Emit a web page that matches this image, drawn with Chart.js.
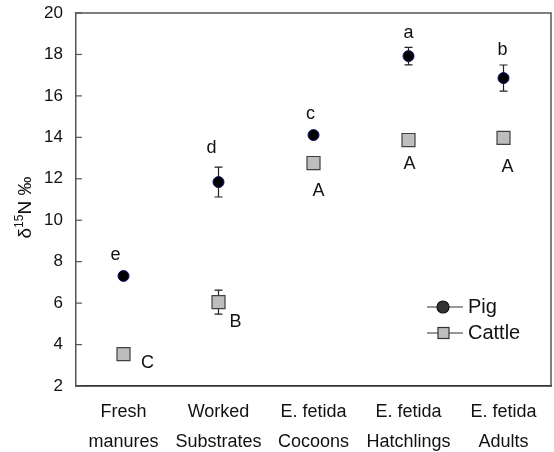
<!DOCTYPE html>
<html>
<head>
<meta charset="utf-8">
<script src="https://cdn.jsdelivr.net/npm/chart.js@4"></script>
<style>
  body { margin: 0; background: #fff; }
</style>
</head>
<body>
<canvas id="chart-area" width="554" height="452"></canvas>
<script>
var categories = [['Fresh', 'manures'], ['Worked', 'Substrates'], ['E. fetida', 'Cocoons'], ['E. fetida', 'Hatchlings'], ['E. fetida', 'Adults']];
var pigValues = [7.31, 11.84, 14.11, 17.92, 16.86];
var pigErrors = [0.1, 0.72, 0.1, 0.42, 0.63];
var cattleValues = [3.54, 6.05, 12.76, 13.87, 13.97];
var cattleErrors = [0.1, 0.58, 0.1, 0.1, 0.1];
var pigLetters = ['e', 'd', 'c', 'a', 'b'];
var cattleLetters = ['C', 'B', 'A', 'A', 'A'];
var yTicks = [2, 4, 6, 8, 10, 12, 14, 16, 18, 20];

var FONT = '"Liberation Sans", Arial, sans-serif';

// pixel offsets of the significance letters from their marker
var pigLetterOffset = [[-8, -21], [-7, -34], [-3, -21], [0, -23], [-1, -28]];
var cattleLetterOffset = [[24, 9], [17, 20], [5, 28], [1, 24], [4, 29]];

var extras = {
  id: 'extras',
  beforeDatasetsDraw: function (chart) {
    var ctx = chart.ctx, x = chart.scales.x, y = chart.scales.y;
    ctx.save();
    ctx.strokeStyle = '#222';
    ctx.lineWidth = 1.2;
    [[pigValues, pigErrors], [cattleValues, cattleErrors]].forEach(function (s) {
      s[0].forEach(function (v, i) {
        var px = x.getPixelForValue(i);
        var top = y.getPixelForValue(v + s[1][i]);
        var bot = y.getPixelForValue(v - s[1][i]);
        ctx.beginPath();
        ctx.moveTo(px, top); ctx.lineTo(px, bot);
        ctx.moveTo(px - 4, top); ctx.lineTo(px + 4, top);
        ctx.moveTo(px - 4, bot); ctx.lineTo(px + 4, bot);
        ctx.stroke();
      });
    });
    ctx.restore();
  },
  afterDraw: function (chart) {
    var ctx = chart.ctx, x = chart.scales.x, y = chart.scales.y, a = chart.chartArea;
    ctx.save();
    // frame top and right
    ctx.strokeStyle = '#555';
    ctx.lineWidth = 1.5;
    ctx.beginPath();
    ctx.moveTo(a.left, a.top); ctx.lineTo(a.right, a.top); ctx.lineTo(a.right, a.bottom);
    ctx.stroke();
    // inward y ticks
    ctx.lineWidth = 1.2;
    yTicks.forEach(function (t) {
      var py = y.getPixelForValue(t);
      ctx.beginPath(); ctx.moveTo(a.left, py); ctx.lineTo(a.left + 6, py); ctx.stroke();
    });
    // letters
    ctx.fillStyle = '#111';
    ctx.font = '18px ' + FONT;
    ctx.textAlign = 'center';
    ctx.textBaseline = 'middle';
    pigLetters.forEach(function (l, i) {
      ctx.fillText(l, x.getPixelForValue(i) + pigLetterOffset[i][0], y.getPixelForValue(pigValues[i]) + pigLetterOffset[i][1]);
    });
    cattleLetters.forEach(function (l, i) {
      ctx.fillText(l, x.getPixelForValue(i) + cattleLetterOffset[i][0], y.getPixelForValue(cattleValues[i]) + cattleLetterOffset[i][1]);
    });
    // legend
    var lx = 427, ly = [307, 333];
    ctx.strokeStyle = '#333';
    ctx.lineWidth = 1.2;
    ly.forEach(function (yy) {
      ctx.beginPath(); ctx.moveTo(lx, yy); ctx.lineTo(lx + 36, yy); ctx.stroke();
    });
    ctx.beginPath();
    ctx.arc(lx + 16, ly[0], 6, 0, Math.PI * 2);
    ctx.fillStyle = '#333'; ctx.fill(); ctx.strokeStyle = '#111'; ctx.stroke();
    ctx.fillStyle = '#bdbdbd';
    ctx.fillRect(lx + 11, ly[1] - 5.5, 11, 11);
    ctx.strokeStyle = '#333';
    ctx.strokeRect(lx + 11, ly[1] - 5.5, 11, 11);
    ctx.fillStyle = '#111';
    ctx.textAlign = 'left';
    ctx.font = '20px ' + FONT;
    ctx.fillText('Pig', lx + 41, ly[0]);
    ctx.fillText('Cattle', lx + 41, ly[1]);
    // y title with superscript
    ctx.translate(26, (a.top + a.bottom) / 2 + 8);
    ctx.rotate(-Math.PI / 2);
    ctx.textBaseline = 'middle';
    ctx.font = '19px ' + FONT;
    var w1 = ctx.measureText('\u03b4').width;
    var w3 = ctx.measureText('N \u2030').width;
    ctx.font = '12px ' + FONT;
    var w2 = ctx.measureText('15').width;
    var sx = -(w1 + w2 + w3) / 2;
    ctx.font = '19px ' + FONT;
    ctx.fillText('\u03b4', sx, 0);
    ctx.font = '12px ' + FONT;
    ctx.fillText('15', sx + w1, -6);
    ctx.font = '19px ' + FONT;
    ctx.fillText('N \u2030', sx + w1 + w2, 0);
    ctx.restore();
  }
};

var config = {
  type: 'line',
  data: {
    labels: categories,
    datasets: [{
      label: 'Pig',
      data: pigValues,
      showLine: false,
      pointStyle: 'circle',
      pointRadius: 5.5,
      pointBackgroundColor: '#000',
      pointBorderColor: '#101070',
      pointBorderWidth: 1
    }, {
      label: 'Cattle',
      data: cattleValues,
      showLine: false,
      pointStyle: 'rect',
      pointRadius: 9.2,
      pointBackgroundColor: '#bdbdbd',
      pointBorderColor: '#404040',
      pointBorderWidth: 1.2
    }]
  },
  options: {
    responsive: false,
    animation: false,
    layout: { autoPadding: false, padding: { left: 0, top: 13, right: 3, bottom: 0 } },
    plugins: { legend: { display: false }, tooltip: { enabled: false } },
    scales: {
      x: {
        offset: true,
        grid: { display: false, drawTicks: true, tickLength: 11 },
        border: { display: true, color: '#333', width: 1.8 },
        ticks: {
          color: '#111',
          padding: 0,
          font: { family: FONT, size: 18, lineHeight: 1.67 },
          maxRotation: 0,
          autoSkip: false
        },
        afterFit: function (s) { s.height = 66; s.paddingLeft = 0; s.paddingRight = 0; }
      },
      y: {
        min: 2,
        max: 20,
        grid: { display: false, drawTicks: false },
        border: { display: true, color: '#555', width: 1.5 },
        ticks: {
          stepSize: 2,
          color: '#111',
          padding: 13,
          font: { family: FONT, size: 17 }
        },
        afterFit: function (s) { s.width = 76; s.paddingTop = 0; s.paddingBottom = 0; }
      }
    }
  },
  plugins: [extras]
};

window.onload = function () {
  var ctx = document.getElementById('chart-area').getContext('2d');
  window.myChart = new Chart(ctx, config);
};
</script>
</body>
</html>
